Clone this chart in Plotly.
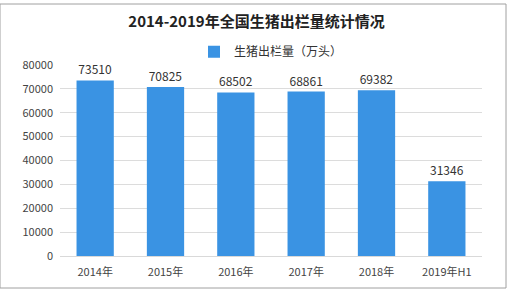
import plotly.graph_objects as go

categories = ["2014年", "2015年", "2016年", "2017年", "2018年", "2019年H1"]
values = [73510, 70825, 68502, 68861, 69382, 31346]
series_name = "生猪出栏量（万头）"
title_text = "2014-2019年全国生猪出栏量统计情况"
y_ticks = [0, 10000, 20000, 30000, 40000, 50000, 60000, 70000, 80000]

font_family = "Noto Sans CJK SC, DejaVu Sans, sans-serif"

fig = go.Figure()
fig.add_trace(go.Bar(
    x=categories, y=values, name=series_name,
    marker=dict(color="#3a93e3", line=dict(width=0)),
    text=[str(v) for v in values], textposition="outside",
    textfont=dict(size=12, color="#333333", family=font_family),
    cliponaxis=False,
))

fig.update_layout(
    width=513, height=292,
    margin=dict(l=60, r=31, t=65, b=36),
    paper_bgcolor="white", plot_bgcolor="white",
    bargap=0.47,
    title=dict(text="<b>" + title_text + "</b>", x=0.5, xanchor="center",
               y=0.925, yanchor="middle",
               font=dict(size=15, color="#222222", family=font_family)),
    showlegend=True,
    legend=dict(orientation="h", x=0.5, xanchor="center", y=1.07, yanchor="middle",
                font=dict(size=12, color="#333333", family=font_family),
                itemwidth=30, itemsizing="constant", bgcolor="rgba(0,0,0,0)"),
    font=dict(family=font_family),
    xaxis=dict(showgrid=False, showline=True, linecolor="#d9d9d9", linewidth=1,
               ticks="", tickfont=dict(size=11, color="#444444"), ticklabelstandoff=6),
    yaxis=dict(range=[0, 80000], tickvals=y_ticks, tickformat="d", showgrid=True,
               gridcolor="#dcdcdc", gridwidth=1, zeroline=False, ticks="",
               tickfont=dict(size=11, color="#444444"), ticklabelstandoff=6),
    shapes=[dict(type="rect", xref="paper", yref="paper",
                 x0=-60/422, x1=1 + 24/422, y0=-32/191, y1=1 + 61/191,
                 line=dict(color="#a0a0a0", width=1), fillcolor="rgba(0,0,0,0)")],
)

fig.write_html("out.html")
